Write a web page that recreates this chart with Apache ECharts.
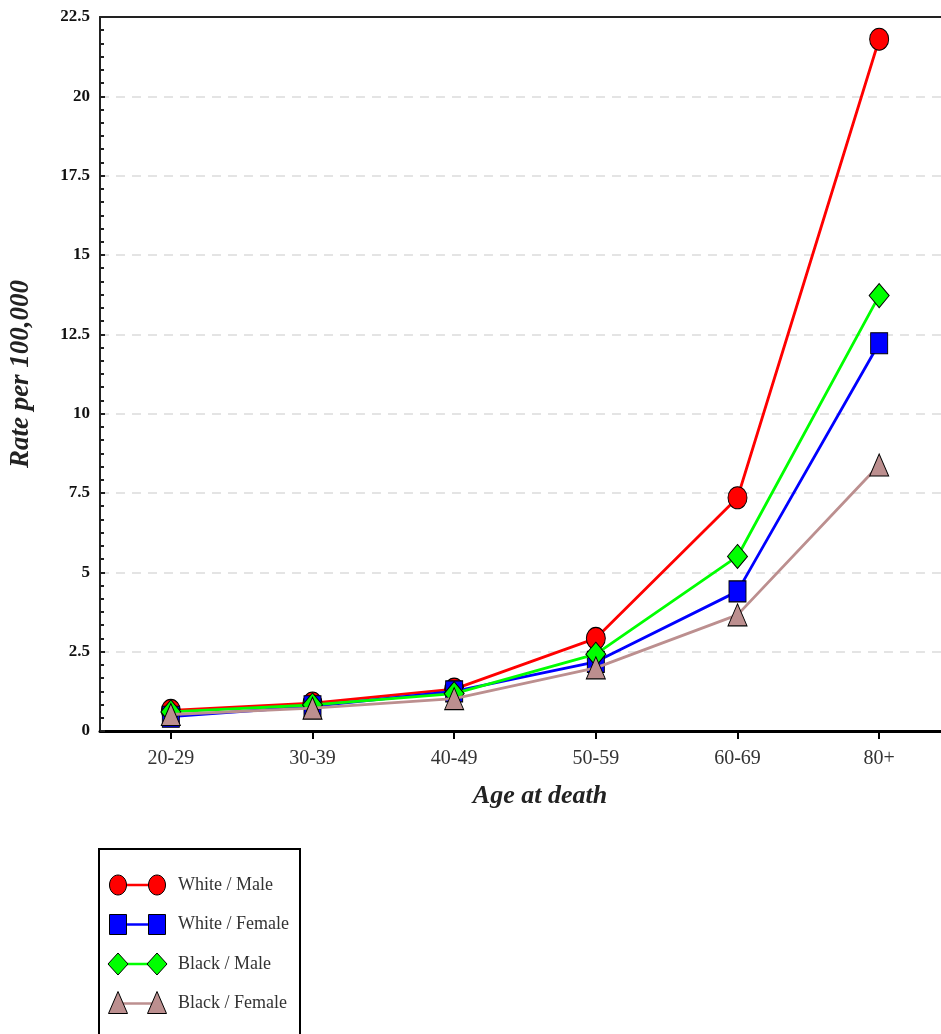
<!DOCTYPE html>
<html>
<head>
<meta charset="utf-8">
<script src="https://cdn.jsdelivr.net/npm/echarts@6/dist/echarts.min.js"></script>
<style>
  html, body { margin: 0; padding: 0; background: #fff; }
  #chart { width: 941px; height: 1034px; }
</style>
</head>
<body>
<div id="chart"></div>
<script>
// Age groups on the x axis
const ageGroups = ['20-29', '30-39', '40-49', '50-59', '60-69', '80+'];

// Rate per 100,000 by group
const whiteMale   = [0.65, 0.88, 1.32, 2.92, 7.35, 21.8];
const whiteFemale = [0.45, 0.78, 1.25, 2.18, 4.4, 12.22];
const blackMale   = [0.6, 0.82, 1.18, 2.42, 5.5, 13.72];
const blackFemale = [0.52, 0.72, 1.02, 1.99, 3.66, 8.38];

const seriesNames = ['White / Male', 'White / Female', 'Black / Male', 'Black / Female'];
const yTicks = { min: 0, max: 22.5, step: 2.5 };

const colors = ['#ff0000', '#0000ff', '#00ff00', '#bc8f8f'];
const ellipsePath = 'path://M0,10 A10,10 0 1,1 20,10 A10,10 0 1,1 0,10 Z';
const symbols = [ellipsePath, 'rect', 'diamond', 'triangle'];
const symbolSizes = [[19, 22], [17, 21], [20, 24], [19, 22]];
const seriesData = [whiteMale, whiteFemale, blackMale, blackFemale];

const serif = '"Liberation Serif", "DejaVu Serif", serif';

const series = seriesData.map((data, i) => ({
  name: seriesNames[i],
  type: 'line',
  data: data,
  symbol: symbols[i],
  symbolSize: symbolSizes[i],
  symbolKeepAspect: false,
  lineStyle: { color: colors[i], width: 2.8 },
  itemStyle: { color: colors[i], borderColor: '#000', borderWidth: 1 },
  z: 2 + i
}));

// Key box drawn below the plot: a short line with a marker at each end
const keyLeft = 99, keyTop = 849, rowStep = 39.5;
const keyChildren = [{
  type: 'rect',
  shape: { x: keyLeft, y: keyTop, width: 201, height: 200 },
  style: { fill: '#fff', stroke: '#000', lineWidth: 2 }
}];
function markerShape(kind, cx, cy, color) {
  const st = { fill: color, stroke: '#000', lineWidth: 1 };
  if (kind === 0) return { type: 'ellipse', shape: { cx, cy, rx: 8.5, ry: 10 }, style: st };
  if (kind === 1) return { type: 'rect', shape: { x: cx - 8.5, y: cy - 10, width: 17, height: 20 }, style: st };
  if (kind === 2) return { type: 'polygon', shape: { points: [[cx, cy - 11], [cx + 10, cy], [cx, cy + 11], [cx - 10, cy]] }, style: st };
  return { type: 'polygon', shape: { points: [[cx, cy - 12], [cx + 9.5, cy + 10], [cx - 9.5, cy + 10]] }, style: st };
}
seriesNames.forEach((name, i) => {
  const cy = 885 + i * rowStep;
  keyChildren.push({
    type: 'line',
    shape: { x1: 118, y1: cy, x2: 157, y2: cy },
    style: { stroke: colors[i], lineWidth: 2.5 }
  });
  keyChildren.push(markerShape(i, 118, cy, colors[i]));
  keyChildren.push(markerShape(i, 157, cy, colors[i]));
  keyChildren.push({
    type: 'text',
    style: {
      x: 178, y: cy, text: name, fill: '#333',
      font: '18px ' + serif, verticalAlign: 'middle'
    }
  });
});

const chart = echarts.init(document.getElementById('chart'), null, { renderer: 'canvas' });
chart.setOption({
  animation: false,
  backgroundColor: '#fff',
  legend: { show: false },
  grid: {
    left: 100, top: 17, width: 850, bottom: 303,
    show: false,
    containLabel: false, outerBoundsMode: 'none'
  },
  xAxis: [{
    type: 'category',
    data: ageGroups,
    boundaryGap: true,
    name: 'Age at death',
    nameLocation: 'middle',
    nameGap: 52,
    nameTextStyle: {
      fontFamily: serif, fontSize: 26, fontWeight: 'bold', fontStyle: 'italic', color: '#222',
      padding: [0, 0, 0, 30]
    },
    axisLine: { lineStyle: { color: '#000', width: 3 } },
    axisTick: { show: true, alignWithLabel: true, length: 8, lineStyle: { color: '#000', width: 2 } },
    axisLabel: { fontFamily: serif, fontSize: 20, color: '#333', margin: 18 },
    splitLine: { show: false }
  }, {
    // top edge of the plot frame
    type: 'category',
    data: ageGroups,
    position: 'top',
    axisLine: { show: true, lineStyle: { color: '#222', width: 2 } },
    axisTick: { show: false },
    axisLabel: { show: false },
    splitLine: { show: false }
  }],
  yAxis: {
    type: 'value',
    min: yTicks.min,
    max: yTicks.max,
    interval: yTicks.step,
    name: 'Rate per 100,000',
    nameLocation: 'middle',
    nameGap: 65,
    nameTextStyle: { fontFamily: serif, fontSize: 27, fontWeight: 'bold', fontStyle: 'italic', color: '#222' },
    axisLine: { show: true, lineStyle: { color: '#222', width: 2 } },
    axisTick: { show: true, inside: true, length: 5, lineStyle: { color: '#222', width: 2 } },
    minorTick: { show: true, splitNumber: 6, length: 4, lineStyle: { color: '#222', width: 2 } },
    axisLabel: { fontFamily: serif, fontSize: 17, fontWeight: 'bold', color: '#111', margin: 10 },
    splitLine: { show: true, showMaxLine: false, showMinLine: false, lineStyle: { color: '#dcdcdc', width: 1.5, type: [9, 7] } }
  },
  series: series,
  graphic: [{ type: 'group', children: keyChildren }]
});
</script>
</body>
</html>
